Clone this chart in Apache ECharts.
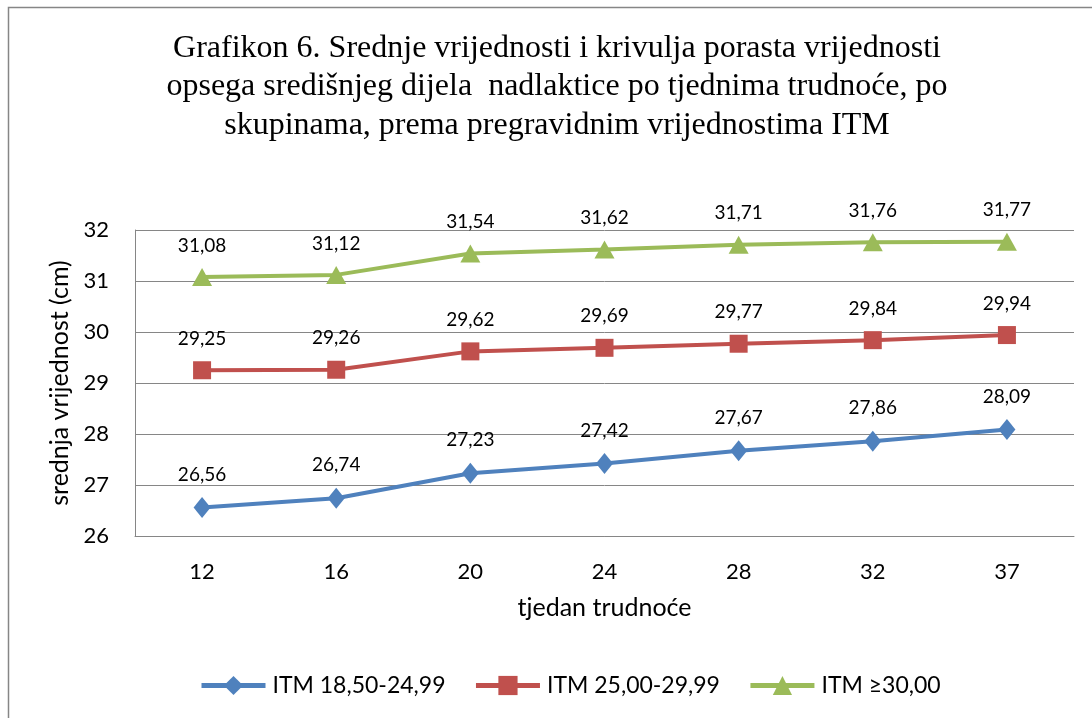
<!DOCTYPE html>
<html>
<head>
<meta charset="utf-8">
<script src="https://cdn.jsdelivr.net/npm/echarts@6/dist/echarts.min.js"></script>
<style>
html,body{margin:0;padding:0;background:#fff;}
#main{width:1092px;height:718px;}
</style>
</head>
<body>
<div id="main"></div>
<script>
var categories = ['12','16','20','24','28','32','37'];
var seriesNames = ['ITM 18,50-24,99','ITM 25,00-29,99','ITM \u226530,00'];
var itm1 = [26.56, 26.74, 27.23, 27.42, 27.67, 27.86, 28.09];
var itm2 = [29.25, 29.26, 29.62, 29.69, 29.77, 29.84, 29.94];
var itm3 = [31.08, 31.12, 31.54, 31.62, 31.71, 31.76, 31.77];
var colors = ['#4F81BD','#C0504D','#9BBB59'];
var symbols = ['diamond','rect','triangle'];
var symbolSizes = [[17,21],[18,18],[20,18]];
var titleText = 'Grafikon 6. Srednje vrijednosti i krivulja porasta vrijednosti\nopsega središnjeg dijela  nadlaktice po tjednima trudnoće, po\nskupinama, prema pregravidnim vrijednostima ITM';

var font = 'Lato, "Open Sans", sans-serif';
var chart = echarts.init(document.getElementById('main'));
var data = [itm1, itm2, itm3];
var series = data.map(function(d, i){
  return {
    name: seriesNames[i],
    type: 'line',
    data: d,
    symbol: symbols[i],
    symbolSize: symbolSizes[i],
    lineStyle: {color: colors[i], width: 4},
    itemStyle: {color: colors[i]},
    label: {
      show: true, position: 'top', distance: 13,
      color: '#000', fontSize: 19, fontFamily: font,
      formatter: function(p){ return p.value.toFixed(2).replace('.', ','); }
    },
    emphasis: {disabled: true},
    animation: false
  };
});
chart.setOption({
  animation: false,
  backgroundColor: '#fff',
  graphic: [{
    type: 'polyline',
    shape: {points: [[8.5, 730], [8.5, 7.5], [1100, 7.5]]},
    style: {stroke: '#868686', lineWidth: 1.5, fill: null},
    silent: true
  }],
  title: {
    text: titleText,
    left: 557, top: 24,
    textAlign: 'center',
    padding: [5, 0, 5, 0],
    textStyle: {fontFamily: '"Liberation Serif", "Times New Roman", serif', fontSize: 32, fontWeight: 'normal', color: '#000', lineHeight: 38.5}
  },
  legend: {
    bottom: 16, left: 194,
    itemWidth: 64, itemHeight: 24, itemGap: 28,
    lineStyle: {width: 5},
    textStyle: {fontFamily: font, fontSize: 23, color: '#000', padding: [0,0,0,2]},
    data: seriesNames
  },
  grid: {left: 135, right: 18, top: 230, bottom: 182},
  xAxis: {
    type: 'category', data: categories, boundaryGap: true,
    name: 'tjedan trudnoće', nameLocation: 'middle', nameGap: 59,
    nameTextStyle: {fontFamily: font, fontSize: 25, color: '#000'},
    axisLine: {lineStyle: {color: '#868686', width: 1}},
    axisTick: {show: false},
    axisLabel: {fontFamily: font, fontSize: 22, color: '#000', margin: 25}
  },
  yAxis: {
    type: 'value', min: 26, max: 32, interval: 1,
    name: 'srednja vrijednost (cm)', nameLocation: 'middle', nameGap: 60, nameRotate: 90,
    nameTextStyle: {fontFamily: font, fontSize: 25, color: '#000'},
    axisLine: {show: true, lineStyle: {color: '#868686', width: 1}},
    axisTick: {show: false},
    axisLabel: {fontFamily: font, fontSize: 22, color: '#000', margin: 26},
    splitLine: {lineStyle: {color: '#868686', width: 1}}
  },
  series: series
});
</script>
</body>
</html>
